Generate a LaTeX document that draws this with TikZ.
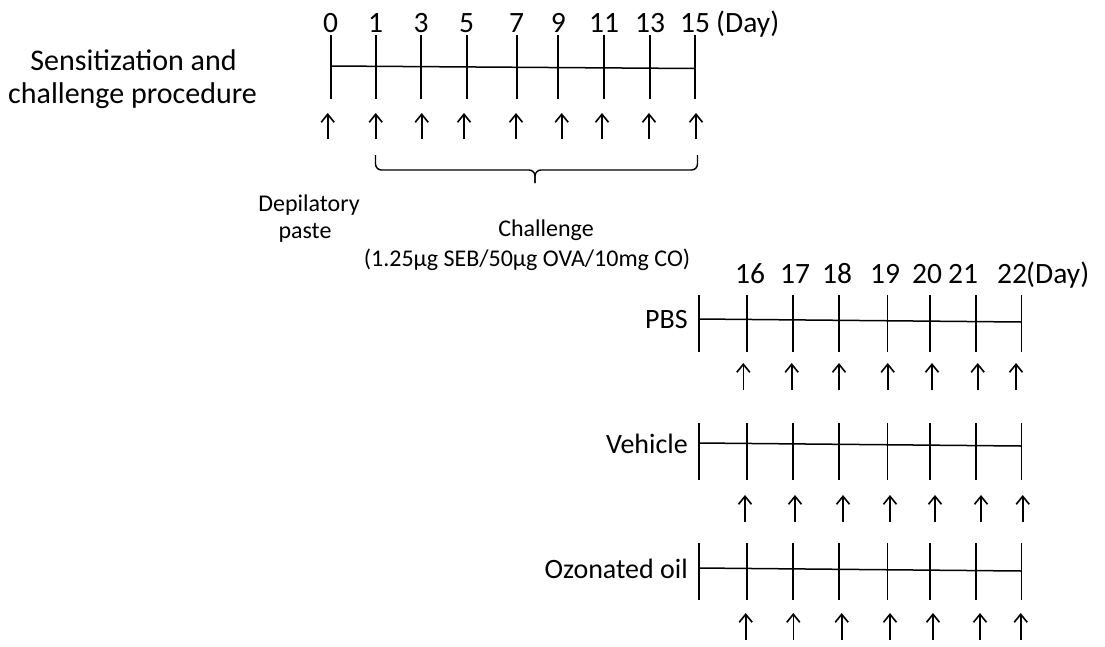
\documentclass[tikz,border=0pt]{standalone}
\usepackage{fontspec}
\setmainfont{Carlito}
\usetikzlibrary{arrows.meta}
\begin{document}
\begin{tikzpicture}[x=1pt,y=-1pt,
  tick/.style={line width=1.8pt},
  axisline/.style={line width=1.5pt},
  uparrow/.style={line width=1.6pt,-{Straight Barb[length=8pt,width=13pt]}},
  bracepath/.style={line width=1.4pt,rounded corners=6pt},
  num/.style={font=\fontsize{29.5}{33}\selectfont,anchor=base,inner sep=0pt},
  grp/.style={font=\fontsize{28}{33}\selectfont,anchor=base east,inner sep=0pt},
  big/.style={font=\fontsize{30}{35}\selectfont,anchor=base,inner sep=0pt},
  small/.style={font=\fontsize{24}{28}\selectfont,anchor=base,inner sep=0pt}]
\useasboundingbox (0,0) rectangle (1105,646);

% ---------- top: sensitization and challenge ----------
\node[big] (sens1) at (133.5,70) {Sensitization and};
\node[big] (sens2) at (132.5,103) {challenge procedure};

\foreach \x/\d [count=\i] in {330.7/0,375.7/1,421/3,466.7/5,516.7/7,558.3/9,604/11,650/13,695/15}{
  \coordinate (tt\i) at (\x,35);
  \coordinate (tb\i) at (\x,99);
  \draw[tick] (tt\i) -- (tb\i);
  \node[num] (tn\i) at (\x,32) {\d};
}
\coordinate (ta) at (330.7,66);
\coordinate (tz) at (695,68.5);
\draw[axisline] (ta) -- (tz);
\node[num,anchor=base west] (tday) at (716,32) {(Day)};

\foreach \x [count=\i] in {327.7,375.7,421.7,464,516,561.7,602,649,696}{
  \coordinate (tas\i) at (\x,139);
  \coordinate (tae\i) at (\x,113);
  \draw[uparrow] (tas\i) -- (tae\i);
}

% brace
\coordinate (bl) at (375.5,155);
\coordinate (br) at (697.5,155);
\coordinate (bm) at (535,170);
\coordinate (btip) at (535,183);
\draw[bracepath] (bl) -- (375.5,170) -- (bm) -- (btip);
\draw[bracepath] (br) -- (697.5,170) -- (bm) -- (btip);

\node[small] (dep1) at (309,211.7) {Depilatory};
\node[small] (dep2) at (305,238) {paste};
\node[small] (chal1) at (546,236.7) {Challenge};
\node[small] (chal2) at (527,266) {(1.25µg SEB/50µg OVA/10mg CO)};

% ---------- bottom: treatment ----------
\foreach \x/\d in {750/16,795/17,837/18,885/19,927/20,963/21,1012/22}{
  \node[num] (bn\d) at (\x,283) {\d};
}
\node[num,anchor=base west] (bday) at (1026,283) {(Day)};

\foreach \name/\lab/\ty/\ly/\tyo in {pbs/PBS/295/319/328.3,veh/Vehicle/423/443/453.3,ozo/Ozonated oil/543/568/578.3}{
  \node[grp] (\name) at (688,\tyo) {\lab};
  \foreach \x [count=\i] in {699,747,793,839,887.5,930,976,1021.5}{
    \coordinate (\name t\i) at (\x,\ty);
    \coordinate (\name b\i) at (\x,\ty+57);
    \draw[tick] (\name t\i) -- (\name b\i);
  }
  \coordinate (\name L) at (699,\ly);
  \coordinate (\name R) at (1021.5,\ly+3);
  \draw[axisline] (\name L) -- (\name R);
}
\foreach \x [count=\i] in {743.3,791.7,839,887.7,932,977.7,1016}{
  \coordinate (pbsas\i) at (\x,390); \coordinate (pbsae\i) at (\x,363);
  \draw[uparrow] (pbsas\i) -- (pbsae\i);
}
\foreach \x [count=\i] in {745,795,843,890,935,981,1022.7}{
  \coordinate (vehas\i) at (\x,522); \coordinate (vehae\i) at (\x,495);
  \draw[uparrow] (vehas\i) -- (vehae\i);
}
\foreach \x [count=\i] in {745.7,793.3,841.7,890,933,980,1020.7}{
  \coordinate (ozoas\i) at (\x,640); \coordinate (ozoae\i) at (\x,613);
  \draw[uparrow] (ozoas\i) -- (ozoae\i);
}
\end{tikzpicture}
\end{document}
